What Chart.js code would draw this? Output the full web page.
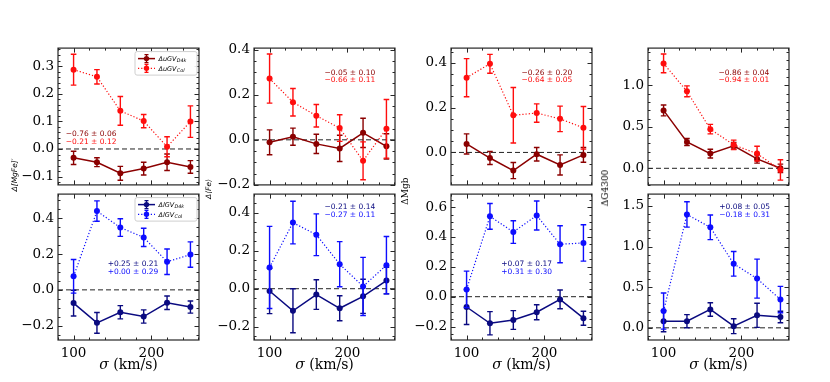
<!DOCTYPE html>
<html>
<head>
<meta charset="utf-8">
<script src="https://cdn.jsdelivr.net/npm/chart.js@4.4.1/dist/chart.umd.min.js"></script>
<style>
  body { margin: 0; background: #fff; width: 830px; height: 382px; position: relative; overflow: hidden; }
  canvas { position: absolute; }
  .ytitle { position: absolute; white-space: nowrap; transform: translate(-50%, -50%) rotate(-90deg); color: #000; }
  .xtitle { position: absolute; white-space: nowrap; transform: translate(-50%, -50%); font: 14px 'DejaVu Serif'; color: #000; }
</style>
</head>
<body>
<script>
// 数据 - 速度弥散分组
const sigma = [100, 130, 160, 190, 220, 250];

// Δ[MgFe]'
const mgfeUD4k = [-0.032, -0.048, -0.088, -0.071, -0.048, -0.065];
const mgfeUD4kErr = [0.024, 0.016, 0.025, 0.023, 0.030, 0.023];
const mgfeUCol = [0.287, 0.261, 0.138, 0.101, 0.008, 0.099];
const mgfeUColErr = [0.056, 0.026, 0.052, 0.024, 0.036, 0.057];
const mgfeLD4k = [-0.074, -0.184, -0.125, -0.149, -0.072, -0.096];
const mgfeLD4kErr = [0.072, 0.058, 0.037, 0.037, 0.038, 0.034];
const mgfeLCol = [0.076, 0.440, 0.348, 0.293, 0.157, 0.197];
const mgfeLColErr = [0.094, 0.057, 0.049, 0.051, 0.071, 0.071];

// Δ<Fe>
const feUD4k = [-0.011, 0.014, -0.018, -0.038, 0.031, -0.029];
const feUD4kErr = [0.055, 0.038, 0.043, 0.058, 0.065, 0.056];
const feUCol = [0.272, 0.167, 0.107, 0.052, -0.093, 0.049];
const feUColErr = [0.109, 0.061, 0.050, 0.059, 0.084, 0.130];
const feLD4k = [-0.012, -0.116, -0.031, -0.103, -0.040, 0.043];
const feLD4kErr = [0.119, 0.116, 0.078, 0.066, 0.090, 0.070];
const feLCol = [0.112, 0.348, 0.284, 0.129, 0.012, 0.124];
const feLColErr = [0.216, 0.112, 0.110, 0.119, 0.153, 0.151];

// ΔMgb
const mgbUD4k = [0.038, -0.025, -0.081, -0.008, -0.056, -0.011];
const mgbUD4kErr = [0.045, 0.029, 0.036, 0.030, 0.045, 0.033];
const mgbUCol = [0.334, 0.396, 0.166, 0.176, 0.150, 0.110];
const mgbUColErr = [0.085, 0.042, 0.124, 0.041, 0.057, 0.095];
const mgbLD4k = [-0.069, -0.178, -0.156, -0.104, -0.018, -0.144];
const mgbLD4kErr = [0.117, 0.078, 0.063, 0.050, 0.063, 0.047];
const mgbLCol = [0.049, 0.538, 0.433, 0.544, 0.351, 0.360];
const mgbLColErr = [0.122, 0.086, 0.076, 0.097, 0.124, 0.122];

// ΔG4300
const g4300UD4k = [0.698, 0.317, 0.177, 0.272, 0.113, 0.000];
const g4300UD4kErr = [0.066, 0.042, 0.053, 0.040, 0.051, 0.050];
const g4300UCol = [1.264, 0.928, 0.472, 0.283, 0.177, -0.019];
const g4300UColErr = [0.113, 0.066, 0.057, 0.057, 0.089, 0.123];
const g4300LD4k = [0.081, 0.081, 0.226, 0.020, 0.154, 0.133];
const g4300LD4kErr = [0.130, 0.081, 0.083, 0.091, 0.148, 0.071];
const g4300LCol = [0.206, 1.395, 1.237, 0.788, 0.606, 0.348];
const g4300LColErr = [0.222, 0.156, 0.152, 0.152, 0.240, 0.162];

// 刻度
const xTicks = [100, 200];
const mgfeUTicks = [-0.1, 0.0, 0.1, 0.2, 0.3];
const mgfeLTicks = [-0.2, 0.0, 0.2, 0.4];
const feUTicks = [-0.2, 0.0, 0.2, 0.4];
const feLTicks = [-0.2, 0.0, 0.2, 0.4];
const mgbUTicks = [0.0, 0.2, 0.4];
const mgbLTicks = [-0.2, 0.0, 0.2, 0.4, 0.6];
const g4300UTicks = [0.0, 0.5, 1.0];
const g4300LTicks = [0.0, 0.5, 1.0, 1.5];

// 拟合斜率文字
const mgfeUNotes = ['\u22120.76 \u00b1 0.06', '\u22120.21 \u00b1 0.12'];
const mgfeLNotes = ['+0.25 \u00b1 0.21', '+0.00 \u00b1 0.29'];
const feUNotes = ['\u22120.05 \u00b1 0.10', '\u22120.66 \u00b1 0.11'];
const feLNotes = ['\u22120.21 \u00b1 0.14', '\u22120.27 \u00b1 0.11'];
const mgbUNotes = ['\u22120.26 \u00b1 0.20', '\u22120.64 \u00b1 0.05'];
const mgbLNotes = ['+0.07 \u00b1 0.17', '+0.31 \u00b1 0.30'];
const g4300UNotes = ['\u22120.86 \u00b1 0.04', '\u22120.94 \u00b1 0.01'];
const g4300LNotes = ['+0.08 \u00b1 0.05', '\u22120.18 \u00b1 0.31'];

const yTitles = ['\u0394[MgFe]\u2032', '\u0394\u27e8Fe\u27e9', '\u0394Mgb', '\u0394G4300'];
const legendU = ['\u0394uGV', '\u0394uGV'];
const legendL = ['\u0394lGV', '\u0394lGV'];
const legendSub = ['D4k', 'Col'];

// 布局与颜色
const colLeft = [58, 254, 451, 648];
const rowTop = [46, 192];
const rowH = [146, 148];
const plotW = 141;
const DARKRED = '#8b0000', RED = '#ff0d0d', NAVY = '#0a0a80', BLUE = '#0d0dff';

const panels = [
  { c: 0, r: 0, d: mgfeUD4k, de: mgfeUD4kErr, v: mgfeUCol, ve: mgfeUColErr, ticks: mgfeUTicks, min: -0.13, max: 0.365, minor: 0.02, notes: mgfeUNotes, nx: 0.055, ny: 0.628 },
  { c: 0, r: 1, d: mgfeLD4k, de: mgfeLD4kErr, v: mgfeLCol, ve: mgfeLColErr, ticks: mgfeLTicks, min: -0.28, max: 0.535, minor: 0.05, notes: mgfeLNotes, nx: 0.352, ny: 0.478 },
  { c: 1, r: 0, d: feUD4k, de: feUD4kErr, v: feUCol, ve: feUColErr, ticks: feUTicks, min: -0.2, max: 0.407, minor: 0.05, notes: feUNotes, nx: 0.50, ny: 0.18 },
  { c: 1, r: 1, d: feLD4k, de: feLD4kErr, v: feLCol, ve: feLColErr, ticks: feLTicks, min: -0.27, max: 0.498, minor: 0.05, notes: feLNotes, nx: 0.50, ny: 0.088 },
  { c: 2, r: 0, d: mgbUD4k, de: mgbUD4kErr, v: mgbUCol, ve: mgbUColErr, ticks: mgbUTicks, min: -0.145, max: 0.466, minor: 0.05, notes: mgbUNotes, nx: 0.50, ny: 0.18 },
  { c: 2, r: 1, d: mgbLD4k, de: mgbLD4kErr, v: mgbLCol, ve: mgbLColErr, ticks: mgbLTicks, min: -0.29, max: 0.687, minor: 0.05, notes: mgbLNotes, nx: 0.357, ny: 0.478 },
  { c: 3, r: 0, d: g4300UD4k, de: g4300UD4kErr, v: g4300UCol, ve: g4300UColErr, ticks: g4300UTicks, min: -0.2, max: 1.449, minor: 0.1, notes: g4300UNotes, nx: 0.50, ny: 0.18 },
  { c: 3, r: 1, d: g4300LD4k, de: g4300LD4kErr, v: g4300LCol, ve: g4300LColErr, ticks: g4300LTicks, min: -0.15, max: 1.646, minor: 0.1, notes: g4300LNotes, nx: 0.505, ny: 0.088 }
];

function fmtTick(v) {
  const s = Math.abs(v) < 1e-9 ? '0.0' : v.toFixed(1);
  return s.replace('-', '\u2212');
}

function series(vals, errs, color, dotted) {
  return {
    data: sigma.map((x, i) => ({ x: x, y: vals[i] })),
    err: errs,
    borderColor: color,
    backgroundColor: color,
    pointBackgroundColor: color,
    pointBorderColor: color,
    pointBorderWidth: 0,
    pointRadius: 3,
    borderWidth: dotted ? 1.2 : 1.5,
    borderDash: dotted ? [1.2, 2] : [],
    tension: 0,
    order: dotted ? 1 : 2
  };
}

function drawLegend(ctx, ca, names, dark, light) {
  const bx = ca.left + 77, by = ca.top + 3.5, bw = 62, bh = 23.5;
  ctx.save();
  ctx.fillStyle = 'rgba(255,255,255,0.9)';
  ctx.strokeStyle = '#cfcfcf';
  ctx.lineWidth = 1;
  ctx.beginPath();
  ctx.roundRect(bx, by, bw, bh, 2);
  ctx.fill();
  ctx.stroke();
  [dark, light].forEach((color, i) => {
    const y = by + 7 + i * 9.7;
    ctx.strokeStyle = color;
    ctx.fillStyle = color;
    ctx.lineWidth = i === 0 ? 1.5 : 1.2;
    ctx.setLineDash(i === 0 ? [] : [1.2, 2]);
    ctx.beginPath(); ctx.moveTo(bx + 3, y); ctx.lineTo(bx + 20, y); ctx.stroke();
    ctx.setLineDash([]);
    ctx.lineWidth = 1.3;
    ctx.beginPath();
    ctx.moveTo(bx + 11.5, y - 4); ctx.lineTo(bx + 11.5, y + 4);
    ctx.moveTo(bx + 9.5, y - 4); ctx.lineTo(bx + 13.5, y - 4);
    ctx.moveTo(bx + 9.5, y + 4); ctx.lineTo(bx + 13.5, y + 4);
    ctx.stroke();
    ctx.beginPath(); ctx.arc(bx + 11.5, y, 2.7, 0, Math.PI * 2); ctx.fill();
    ctx.fillStyle = '#000';
    ctx.textBaseline = 'alphabetic';
    ctx.textAlign = 'left';
    ctx.font = 'italic 6.5px "DejaVu Sans"';
    ctx.fillText(names[i], bx + 23.5, y + 2.3);
    const w = ctx.measureText(names[i]).width;
    ctx.font = 'italic 4.8px "DejaVu Sans"';
    ctx.fillText(legendSub[i], bx + 23.8 + w, y + 3.8);
  });
  ctx.restore();
}

function decor(p, dark, light) {
  return {
    id: 'decor',
    beforeDatasetsDraw(chart) {
      const { ctx, chartArea: ca } = chart;
      const y0 = chart.scales.y.getPixelForValue(0);
      ctx.save();
      ctx.strokeStyle = '#222';
      ctx.lineWidth = 1;
      ctx.setLineDash([5, 3]);
      ctx.beginPath(); ctx.moveTo(ca.left, y0); ctx.lineTo(ca.right, y0); ctx.stroke();
      ctx.restore();
    },
    beforeDatasetDraw(chart, args) {
      const ds = chart.data.datasets[args.index];
      const { ctx, chartArea: ca } = chart;
      const xs = chart.scales.x, ys = chart.scales.y;
      ctx.save();
      ctx.beginPath();
      ctx.rect(ca.left, ca.top, ca.right - ca.left, ca.bottom - ca.top);
      ctx.clip();
      ctx.strokeStyle = ds.borderColor;
      ctx.lineWidth = 1.4;
      ds.data.forEach((pt, i) => {
        const x = xs.getPixelForValue(pt.x);
        const y1 = ys.getPixelForValue(pt.y - ds.err[i]);
        const y2 = ys.getPixelForValue(pt.y + ds.err[i]);
        ctx.beginPath();
        ctx.moveTo(x, y1); ctx.lineTo(x, y2);
        ctx.moveTo(x - 2.8, y1); ctx.lineTo(x + 2.8, y1);
        ctx.moveTo(x - 2.8, y2); ctx.lineTo(x + 2.8, y2);
        ctx.stroke();
      });
      ctx.restore();
    },
    afterDraw(chart) {
      const { ctx, chartArea: ca } = chart;
      const xs = chart.scales.x, ys = chart.scales.y;
      ctx.save();
      // 边框
      ctx.strokeStyle = '#262626';
      ctx.lineWidth = 1.2;
      ctx.strokeRect(ca.left, ca.top, ca.right - ca.left, ca.bottom - ca.top);
      // 向内刻度
      ctx.lineWidth = 1;
      ctx.beginPath();
      for (let v = 80; v <= 261; v += 20) {
        const x = Math.round(xs.getPixelForValue(v)) + 0.5;
        const len = xTicks.includes(v) ? 4.5 : 2.5;
        ctx.moveTo(x, ca.bottom); ctx.lineTo(x, ca.bottom - len);
        ctx.moveTo(x, ca.top); ctx.lineTo(x, ca.top + len);
      }
      const start = Math.ceil(p.min / p.minor - 1e-6);
      for (let k = start; k * p.minor <= p.max + 1e-9; k++) {
        const v = k * p.minor;
        const y = Math.round(ys.getPixelForValue(v)) + 0.5;
        const major = p.ticks.some(t => Math.abs(t - v) < 1e-6);
        const len = major ? 4.5 : 2.5;
        ctx.moveTo(ca.left, y); ctx.lineTo(ca.left + len, y);
        ctx.moveTo(ca.right, y); ctx.lineTo(ca.right - len, y);
      }
      ctx.stroke();
      // 斜率标注
      ctx.font = '7.5px "DejaVu Sans"';
      ctx.textBaseline = 'middle';
      ctx.textAlign = 'left';
      const tx = ca.left + p.nx * (ca.right - ca.left);
      const ty = ca.top + p.ny * (ca.bottom - ca.top);
      ctx.fillStyle = dark; ctx.fillText(p.notes[0], tx, ty);
      ctx.fillStyle = light; ctx.fillText(p.notes[1], tx, ty + 7.8);
      ctx.restore();
      if (p.c === 0) drawLegend(ctx, ca, p.r === 0 ? legendU : legendL, dark, light);
    }
  };
}

function makePanel(p) {
  const bottomRow = p.r === 1;
  const W = 50 + plotW + 5;
  const H = 10 + rowH[p.r] + (bottomRow ? 35 : 5);
  const cv = document.createElement('canvas');
  cv.width = W; cv.height = H;
  cv.style.width = W + 'px'; cv.style.height = H + 'px';
  cv.style.left = (colLeft[p.c] - 50) + 'px';
  cv.style.top = (rowTop[p.r] - 10) + 'px';
  document.body.appendChild(cv);
  const dark = bottomRow ? NAVY : DARKRED;
  const light = bottomRow ? BLUE : RED;
  const tickFont = { family: 'DejaVu Serif', size: 13.5 };
  new Chart(cv, {
    type: 'line',
    data: { datasets: [series(p.d, p.de, dark, false), series(p.v, p.ve, light, true)] },
    options: {
      responsive: false,
      animation: false,
      devicePixelRatio: 1,
      layout: { padding: { left: 0, right: 5, top: 10, bottom: bottomRow ? 0 : 5 } },
      plugins: { legend: { display: false }, tooltip: { enabled: false } },
      scales: {
        x: {
          type: 'linear', min: 80, max: 261, display: bottomRow,
          grid: { display: false, drawTicks: false }, border: { display: false },
          ticks: { font: tickFont, color: '#000', padding: 5, autoSkip: false, maxRotation: 0, callback: v => String(v) },
          afterBuildTicks: s => { s.ticks = xTicks.map(v => ({ value: v })); },
          afterFit: s => { s.height = bottomRow ? 35 : 0; }
        },
        y: {
          type: 'linear', min: p.min, max: p.max,
          grid: { display: false, drawTicks: false }, border: { display: false },
          ticks: { font: tickFont, color: '#000', padding: 4, autoSkip: false, callback: v => fmtTick(v) },
          afterBuildTicks: s => { s.ticks = p.ticks.map(v => ({ value: v })); },
          afterFit: s => { s.width = 50; }
        }
      }
    },
    plugins: [decor(p, dark, light)]
  });
}

panels.forEach(makePanel);

// 坐标轴标题
const yTitlePos = [[14, 175, 'italic 7.5px "DejaVu Sans"'], [208, 189, 'italic 7.5px "DejaVu Sans"'], [405, 191, '9px "DejaVu Serif"'], [605, 188, '9px "DejaVu Serif"']];
yTitles.forEach((t, i) => {
  const el = document.createElement('div');
  el.className = 'ytitle';
  el.textContent = t;
  el.style.left = yTitlePos[i][0] + 'px';
  el.style.top = yTitlePos[i][1] + 'px';
  el.style.font = yTitlePos[i][2];
  document.body.appendChild(el);
});
colLeft.forEach(x0 => {
  const el = document.createElement('div');
  el.className = 'xtitle';
  el.innerHTML = '<i>\u03c3</i> (km/s)';
  el.style.left = (x0 + plotW / 2) + 'px';
  el.style.top = '364px';
  document.body.appendChild(el);
});
</script>
</body>
</html>
